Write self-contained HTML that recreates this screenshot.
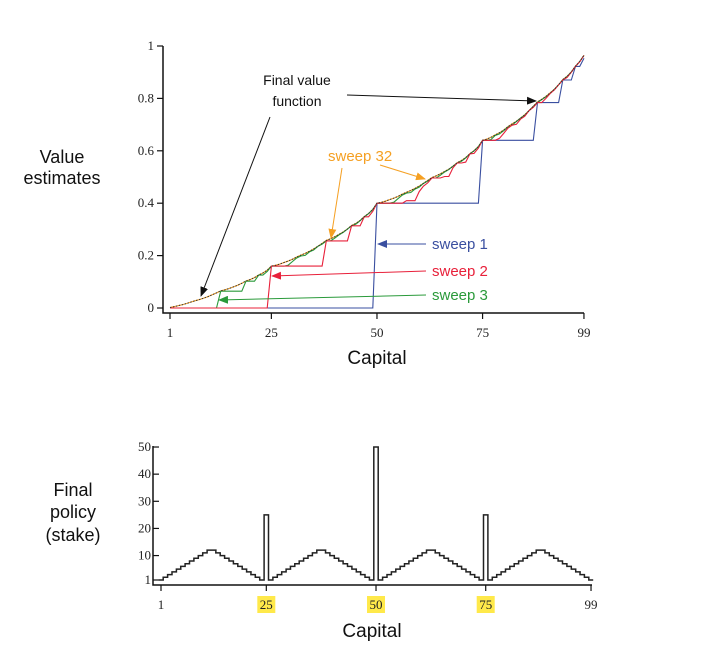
<!DOCTYPE html>
<html><head><meta charset="utf-8"><style>
html,body{margin:0;padding:0;background:#fff;}
svg{display:block;}
.s{font-family:"Liberation Sans",sans-serif;}
.t{font-family:"Liberation Serif",serif;font-size:13px;fill:#222;}
</style></head><body>
<svg id="c" width="726" height="668" xmlns="http://www.w3.org/2000/svg">
<defs>
<marker id="ak" markerWidth="10" markerHeight="8" refX="9" refY="4" orient="auto" markerUnits="userSpaceOnUse"><path d="M0,0 L10,4 L0,8 z" fill="#111"/></marker>
<marker id="ao" markerWidth="10" markerHeight="8" refX="9" refY="4" orient="auto" markerUnits="userSpaceOnUse"><path d="M0,0 L10,4 L0,8 z" fill="#f5a023"/></marker>
<marker id="ab" markerWidth="10" markerHeight="8" refX="9" refY="4" orient="auto" markerUnits="userSpaceOnUse"><path d="M0,0 L10,4 L0,8 z" fill="#3a4fa0"/></marker>
<marker id="ar" markerWidth="10" markerHeight="8" refX="9" refY="4" orient="auto" markerUnits="userSpaceOnUse"><path d="M0,0 L10,4 L0,8 z" fill="#e8203a"/></marker>
<marker id="ag" markerWidth="10" markerHeight="8" refX="9" refY="4" orient="auto" markerUnits="userSpaceOnUse"><path d="M0,0 L10,4 L0,8 z" fill="#2a9a3a"/></marker>
</defs>
<g id="top"></g>
<g id="bot"></g>
<!-- labels -->
<text class="s" x="62" y="163" font-size="18" text-anchor="middle" fill="#111">Value</text>
<text class="s" x="62" y="184" font-size="18" text-anchor="middle" fill="#111">estimates</text>
<text class="s" x="377" y="364" font-size="19" text-anchor="middle" fill="#111">Capital</text>
<text class="s" x="73" y="496" font-size="18" text-anchor="middle" fill="#111">Final</text>
<text class="s" x="73" y="518" font-size="18" text-anchor="middle" fill="#111">policy</text>
<text class="s" x="73" y="541" font-size="18" text-anchor="middle" fill="#111">(stake)</text>
<text class="s" x="372" y="637" font-size="19" text-anchor="middle" fill="#111">Capital</text>
<!-- annotations -->
<text class="s" x="297" y="85" font-size="14" text-anchor="middle" fill="#111">Final value</text>
<text class="s" x="297" y="106" font-size="14" text-anchor="middle" fill="#111">function</text>
<line x1="270" y1="117" x2="201" y2="296" stroke="#111" stroke-width="1" marker-end="url(#ak)"/>
<line x1="347" y1="95" x2="536" y2="101" stroke="#111" stroke-width="1" marker-end="url(#ak)"/>
<text class="s" x="328" y="161" font-size="15" fill="#f5a023">sweep 32</text>
<line x1="342" y1="168" x2="331" y2="238" stroke="#f5a023" stroke-width="1" marker-end="url(#ao)"/>
<line x1="380" y1="165" x2="425" y2="179" stroke="#f5a023" stroke-width="1" marker-end="url(#ao)"/>
<text class="s" x="432" y="249" font-size="15" fill="#3a4fa0">sweep 1</text>
<line x1="426" y1="244" x2="378" y2="244" stroke="#3a4fa0" stroke-width="1" marker-end="url(#ab)"/>
<text class="s" x="432" y="276" font-size="15" fill="#e8203a">sweep 2</text>
<line x1="426" y1="271" x2="272" y2="276" stroke="#e8203a" stroke-width="1" marker-end="url(#ar)"/>
<text class="s" x="432" y="300" font-size="15" fill="#2a9a3a">sweep 3</text>
<line x1="426" y1="295" x2="219" y2="300" stroke="#2a9a3a" stroke-width="1" marker-end="url(#ag)"/>
</svg>
<script>
(function(){
var NS="http://www.w3.org/2000/svg";
function el(p,n,a,txt){var e=document.createElementNS(NS,n);for(var k in a)e.setAttribute(k,a[k]);if(txt!==undefined)e.textContent=txt;p.appendChild(e);return e;}
var top=document.getElementById('top'),bot=document.getElementById('bot');
// value iteration
var ph=0.4,V=[];for(var i=0;i<=100;i++)V[i]=0;V[100]=1;
var sw={};
function sweep(){for(var s=1;s<100;s++){var best=0;for(var a=1;a<=Math.min(s,100-s);a++){var v=ph*V[s+a]+(1-ph)*V[s-a];if(v>best)best=v;}V[s]=best;}}
for(var k=1;k<=1000;k++){sweep();if(k==1||k==2||k==3||k==32)sw[k]=V.slice();}
var fin=V.slice();
function X(s){return 170+(s-1)*4.224;}
function Y(v){return 308-v*262;}
// axes top
el(top,'path',{d:'M163,46 L163,313 L584,313',fill:'none',stroke:'#111','stroke-width':1.5});
[[0,'0'],[0.2,'0.2'],[0.4,'0.4'],[0.6,'0.6'],[0.8,'0.8'],[1,'1']].forEach(function(t){var y=Y(t[0]);el(top,'line',{x1:157,y1:y,x2:163,y2:y,stroke:'#111','stroke-width':1.2});el(top,'text',{'class':'t',x:154,y:y+4,'text-anchor':'end'},t[1]);});
[1,25,50,75,99].forEach(function(s){var x=X(s);el(top,'line',{x1:x,y1:313,x2:x,y2:319,stroke:'#111','stroke-width':1.2});el(top,'text',{'class':'t',x:x,y:337,'text-anchor':'middle'},String(s));});
function poly(arr,col,w,dash){var p='';for(var s=1;s<=99;s++){p+=(s==1?'M':'L')+X(s).toFixed(1)+','+Y(arr[s]).toFixed(1);}var a={d:p,fill:'none',stroke:col,'stroke-width':w};if(dash)a['stroke-dasharray']=dash;el(top,'path',a);}
poly(sw[1],'#3a4fa0',1.1);
poly(sw[32],'#f5a023',1.1);
poly(sw[3],'#2a9a3a',1.1);
poly(sw[2],'#e8203a',1.1);
poly(fin,'#333',1,'1.5,1.5');
// bottom policy
function BX(s){return 161+(s-1)*4.388;}
function BY(v){return 580-(v-1)*2.714;}
el(bot,'path',{d:'M153,446 L153,585 L592,585',fill:'none',stroke:'#111','stroke-width':1.5});
[[1,'1'],[10,'10'],[20,'20'],[30,'30'],[40,'40'],[50,'50']].forEach(function(t){var y=BY(t[0]);el(bot,'line',{x1:153,y1:y,x2:159,y2:y,stroke:'#111','stroke-width':1.2});el(bot,'text',{'class':'t',x:151,y:y+4,'text-anchor':'end'},t[1]);});
[25,50,75].forEach(function(s){el(bot,'rect',{x:BX(s)-9,y:596,width:18,height:17,fill:'#ffe94a'});});
[1,25,50,75,99].forEach(function(s){var x=BX(s);el(bot,'line',{x1:x,y1:585,x2:x,y2:591,stroke:'#111','stroke-width':1.2});el(bot,'text',{'class':'t',x:x,y:609,'text-anchor':'middle'},String(s));});
function pol(s){if(s==25||s==75)return 25;if(s==50)return 50;var b=Math.floor(s/25)*25;return Math.min(s-b,b+25-s);}
var d='';var h=2.2;
for(var s=1;s<=99;s++){var x0=BX(s)-h,x1=BX(s)+h,y=BY(pol(s));
 if(s==1)d+='M'+x0.toFixed(1)+','+y.toFixed(1);else d+='L'+x0.toFixed(1)+','+y.toFixed(1);
 d+='L'+x1.toFixed(1)+','+y.toFixed(1);}
el(bot,'path',{d:d,fill:'none',stroke:'#222','stroke-width':1.5});
})();
</script>
</body></html>
